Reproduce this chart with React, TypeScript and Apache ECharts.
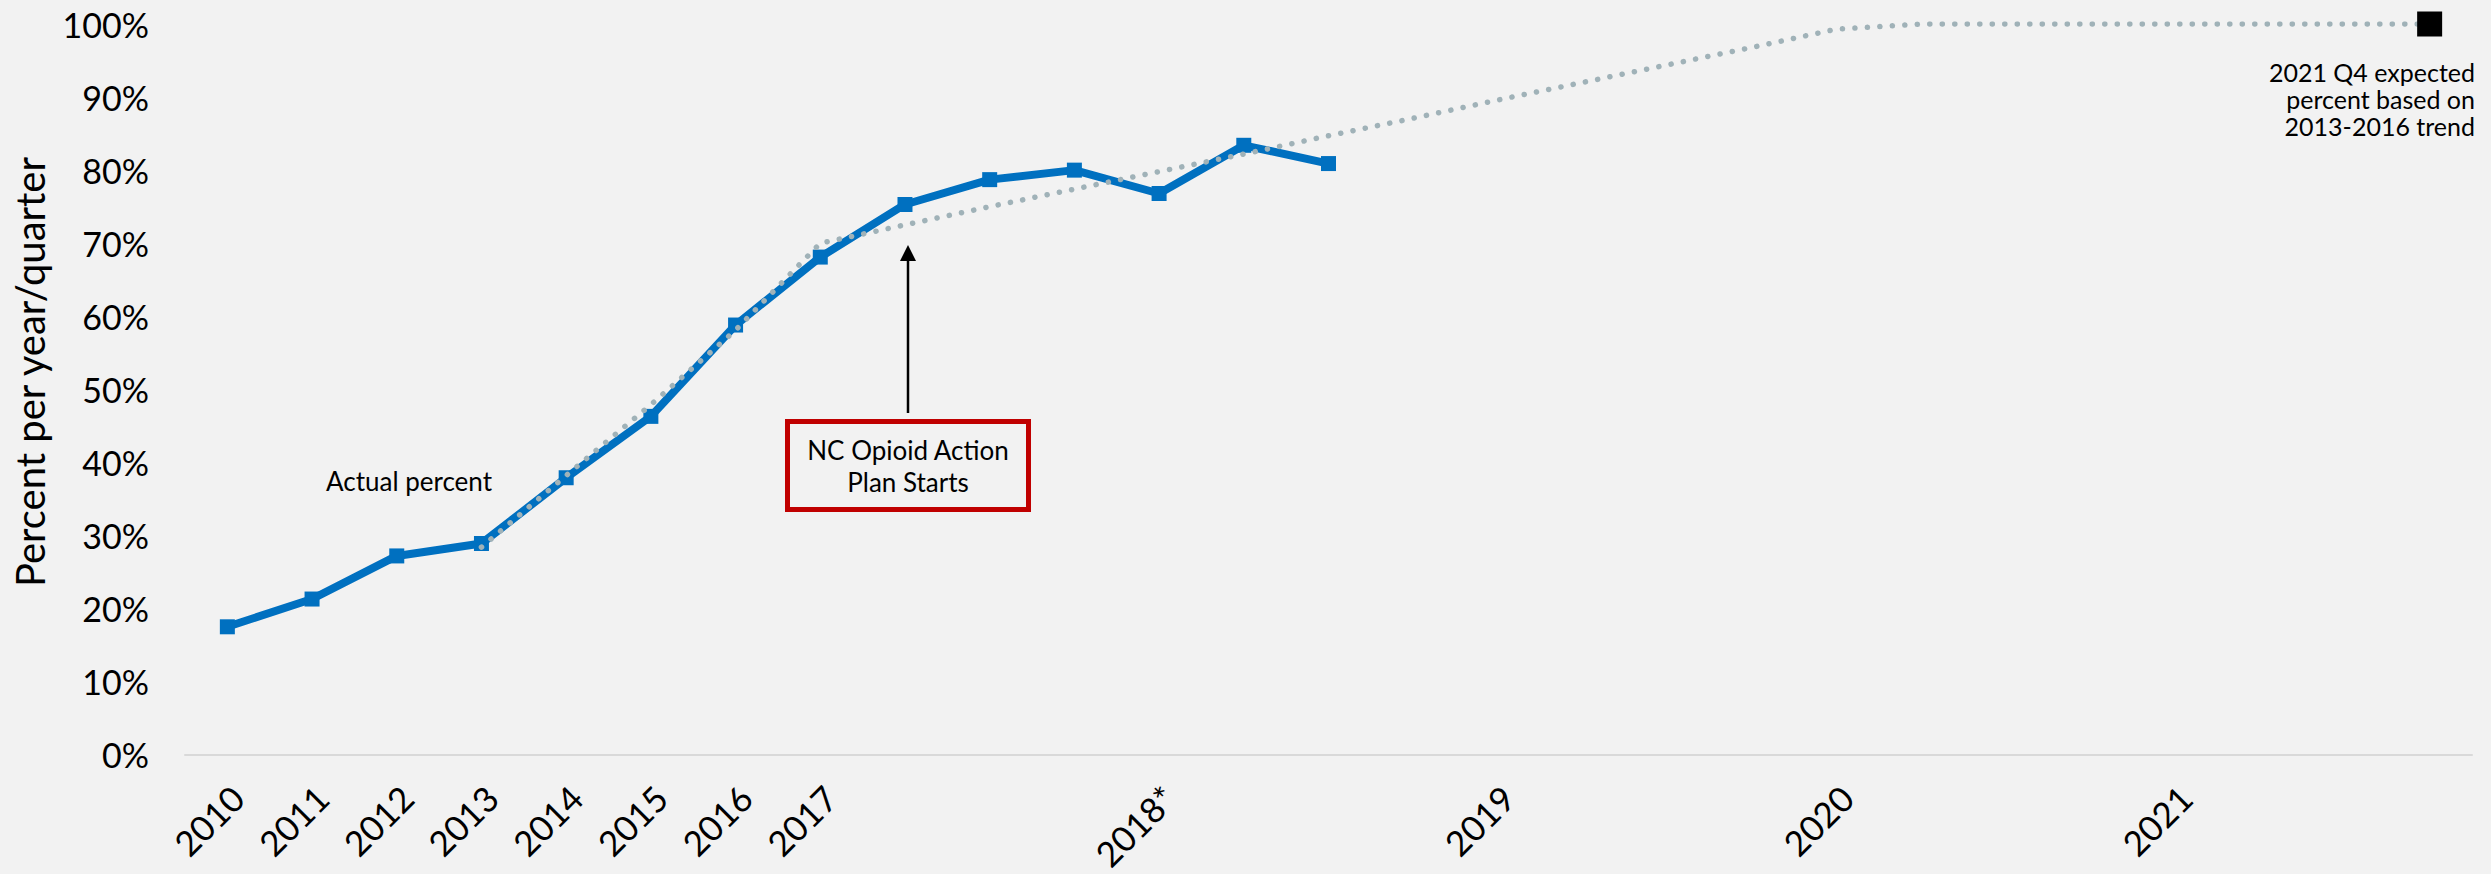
import React, { useEffect, useRef } from "react";
import * as echarts from "echarts";

const categories = [
  "2010", "2011", "2012", "2013", "2014", "2015", "2016", "2017",
  "2017 Q2", "2017 Q3", "2017 Q4",
  "2018 Q1", "2018 Q2", "2018 Q3", "2018 Q4",
  "2019 Q1", "2019 Q2", "2019 Q3", "2019 Q4",
  "2020 Q1", "2020 Q2", "2020 Q3", "2020 Q4",
  "2021 Q1", "2021 Q2", "2021 Q3", "2021 Q4",
];

const tickLabels = [
  "2010", "2011", "2012", "2013", "2014", "2015", "2016", "2017",
  "", "", "",
  "2018*", "", "", "",
  "2019", "", "", "",
  "2020", "", "", "",
  "2021", "", "", "",
];

const actualPercent = [
  17.5, 21.3, 27.2, 28.9, 37.9, 46.3, 58.8, 68.1,
  75.3, 78.7, 80.0, 76.8, 83.4, 80.9,
  null, null, null, null, null, null, null, null, null, null, null, null, null,
];

const trendPercent = [
  null, null, null, 28.4, 38.2, 47.9, 58.1, 70.0,
  72.5, 75.0, 77.4, 79.8, 82.2, 84.7, 87.1,
  89.6, 92.0, 94.4, 96.8, 99.3, 100, 100, 100,
  100, 100, 100, 100,
];

const expectedPercent = [
  null, null, null, null, null, null, null, null, null, null, null, null, null,
  null, null, null, null, null, null, null, null, null, null, null, null, null, 100,
];

const yTicks = { min: 0, max: 100, interval: 10 };

const FONT = "Lato, 'Open Sans', sans-serif";

export default function App() {
  const ref = useRef<HTMLDivElement>(null);

  useEffect(() => {
    if (!ref.current) return;
    const chart = echarts.init(ref.current, null, { renderer: "svg" });
    chart.setOption({
      animation: false,
      backgroundColor: "#F2F2F2",
      textStyle: { fontFamily: FONT },
      grid: { left: 185, right: 19, top: 24, bottom: 116, containLabel: false },
      xAxis: {
        type: "category",
        data: categories,
        boundaryGap: true,
        axisLine: { show: true, lineStyle: { color: "#D9D9D9", width: 2 } },
        axisTick: { show: false },
        splitLine: { show: false },
        axisLabel: {
          interval: 0,
          rotate: 45,
          margin: 27,
          verticalAlign: "top",
          align: "right",
          fontSize: 35,
          lineHeight: 28,
          color: "#000000",
          fontFamily: FONT,
          formatter: (_v: string, i: number) => tickLabels[i],
        },
      },
      yAxis: {
        type: "value",
        min: yTicks.min,
        max: yTicks.max,
        interval: yTicks.interval,
        axisLine: { show: false },
        axisTick: { show: false },
        splitLine: { show: false },
        axisLabel: {
          formatter: "{value}%",
          fontSize: 34,
          margin: 36,
          color: "#000000",
          fontFamily: FONT,
        },
      },
      series: [
        {
          name: "Actual percent",
          type: "line",
          data: actualPercent,
          z: 2,
          symbol: "rect",
          symbolSize: 15,
          showSymbol: true,
          lineStyle: { color: "#0070C0", width: 8 },
          itemStyle: { color: "#0070C0" },
          connectNulls: false,
        },
        {
          name: "Trend",
          type: "line",
          data: trendPercent,
          z: 3,
          symbol: "none",
          lineStyle: {
            color: "#A0B2B8",
            width: 5.5,
            type: [0.1, 12.4],
            cap: "round",
          },
        },
        {
          name: "Expected",
          type: "line",
          data: expectedPercent,
          z: 4,
          symbol: "rect",
          symbolSize: 25,
          itemStyle: { color: "#000000" },
          lineStyle: { width: 0 },
        },
      ],
      graphic: [
        {
          type: "text",
          x: 30,
          y: 372,
          rotation: Math.PI / 2,
          style: {
            text: "Percent per year/quarter",
            fontSize: 40,
            fontFamily: FONT,
            fill: "#000000",
            align: "center",
            verticalAlign: "middle",
          },
        },
        {
          type: "text",
          x: 409,
          y: 481,
          style: {
            text: "Actual percent",
            fontSize: 26,
            fontFamily: FONT,
            fill: "#000000",
            align: "center",
            verticalAlign: "middle",
          },
        },
        {
          type: "line",
          shape: { x1: 908, y1: 413, x2: 908, y2: 258 },
          style: { stroke: "#000000", lineWidth: 2.5 },
        },
        {
          type: "polygon",
          shape: { points: [[908, 245], [900, 261], [916, 261]] },
          style: { fill: "#000000" },
        },
        {
          type: "rect",
          shape: { x: 787.5, y: 421.5, width: 241, height: 88 },
          style: { fill: "transparent", stroke: "#C00000", lineWidth: 5 },
        },
        {
          type: "text",
          x: 908,
          y: 466,
          style: {
            text: "NC Opioid Action\nPlan Starts",
            fontSize: 26,
            lineHeight: 32,
            fontFamily: FONT,
            fill: "#000000",
            align: "center",
            verticalAlign: "middle",
          },
        },
        {
          type: "text",
          x: 2475,
          y: 99,
          style: {
            text: "2021 Q4 expected\npercent based on\n2013-2016 trend",
            fontSize: 25,
            lineHeight: 27,
            fontFamily: FONT,
            fill: "#000000",
            align: "right",
            verticalAlign: "middle",
          },
        },
      ],
    });
    return () => chart.dispose();
  }, []);

  return (
    <div
      ref={ref}
      style={{
        position: "fixed",
        left: 0,
        top: 0,
        width: 2491,
        height: 874,
        background: "#F2F2F2",
      }}
    />
  );
}
